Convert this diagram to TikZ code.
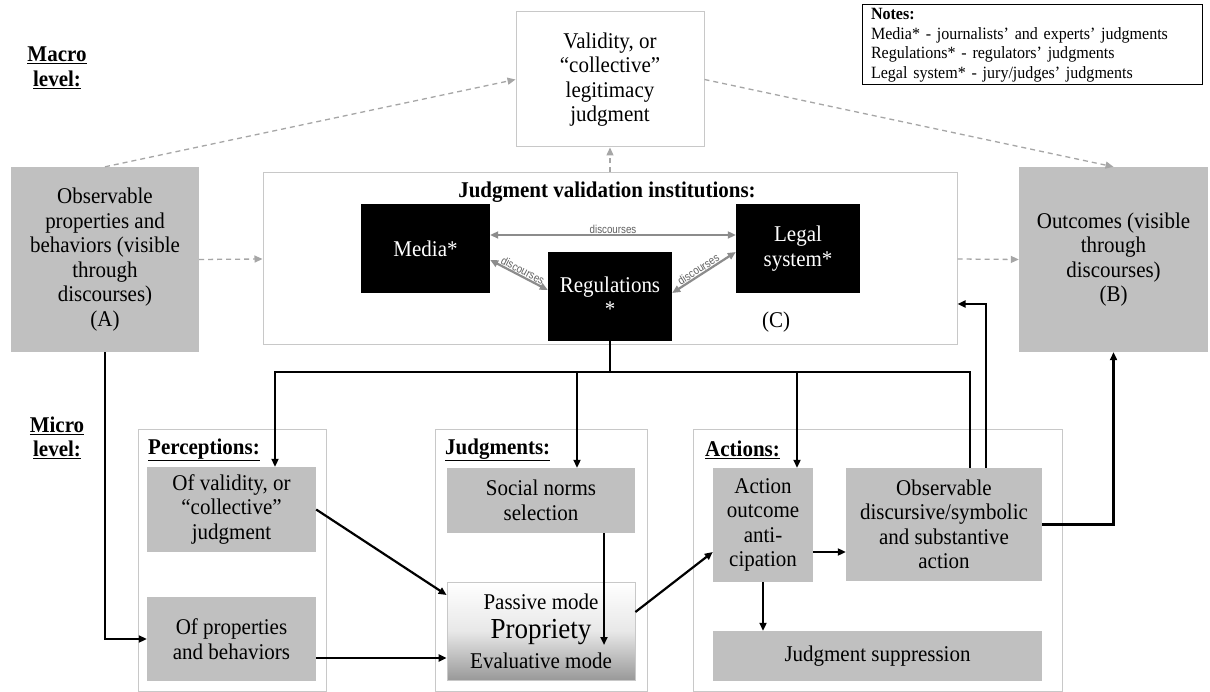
\documentclass[tikz,border=0pt]{standalone}
\usepackage{fontspec}
\setmainfont{Liberation Serif}[FakeStretch=0.933]
\newfontfamily\narrowsans{Liberation Sans}[FakeStretch=0.85]
\usetikzlibrary{arrows.meta}
\definecolor{boxgray}{HTML}{C0C0C0}
\definecolor{framegray}{HTML}{C8C8C8}
\definecolor{dashgray}{HTML}{A6A6A6}
\definecolor{discgray}{HTML}{8C8C8C}
\definecolor{disctext}{HTML}{606060}
\newcommand\mainfs{\fontsize{22.5}{24.5}\selectfont}
\newcommand\notefs{\fontsize{17.2}{19.5}\selectfont}
\newcommand\discfs{\narrowsans\fontsize{11.5}{12.5}\selectfont}
\begin{document}
\begin{tikzpicture}[x=1pt,y=-1pt,font=\mainfs,
  gbox/.style={fill=boxgray, align=center, inner sep=0pt},
  frame/.style={draw=framegray, line width=1pt, inner sep=0pt},
  bbox/.style={fill=black, text=white, align=center, inner sep=0pt},
  lbl/.style={font=\mainfs\bfseries, inner sep=0pt},
  dashconn/.style={draw=dashgray, line width=1.3pt, dash pattern=on 5pt off 4pt, -{Triangle[length=8pt,width=7pt]}},
  conn/.style={draw=black, line width=2.2pt, -{Triangle[length=8pt,width=7pt]}},
  plainconn/.style={draw=black, line width=2.2pt},
  disc/.style={draw=discgray, line width=2.2pt, {Triangle[length=8pt,width=7pt]}-{Triangle[length=8pt,width=7pt]}},
  disclbl/.style={font=\discfs, text=disctext, inner sep=0.5pt}
]
\useasboundingbox (0,0) rectangle (1210,692);
\fill[white] (0,0) rectangle (1210,692);

% level labels
\node[lbl, align=center] (macro) at (57,68) {\underline{Macro}\\\underline{level:}};
\node[lbl, align=center] (micro) at (57,438) {\underline{Micro}\\\underline{level:}};

% notes
\node[draw=black, line width=1pt, align=left, font=\notefs, text width=322, inner xsep=9pt, inner ysep=1pt, minimum height=80] (notes) at (1032,45)
  {\textbf{Notes:}\\Media* - journalists’ and experts’ judgments\\Regulations* - regulators’ judgments\\Legal system* - jury/judges’ judgments};

% macro level
\node[frame, fill=white, align=center, minimum width=188, minimum height=135] (valid) at (610,79.5)
  {Validity, or\\“collective”\\legitimacy\\judgment};
\node[gbox, minimum width=188, minimum height=185] (A) at (105,259.5)
  {Observable\\properties and\\behaviors (visible\\through\\discourses)\\(A)};
\node[gbox, minimum width=189, minimum height=185] (B) at (1113.5,259.5)
  {Outcomes (visible\\through\\discourses)\\(B)};
\node[frame, fill=white, minimum width=694, minimum height=172] (jvi) at (610,259) {};
\node[lbl] (jvititle) at (607,192) {Judgment validation institutions:};
\node[bbox, minimum width=129, minimum height=89] (media) at (425.5,248.5) {Media*};
\node[bbox, minimum width=124, minimum height=89] (reg) at (610,296.5) {Regulations\\*};
\node[bbox, minimum width=124, minimum height=89] (legal) at (798,248.5) {Legal\\system*};
\node[inner sep=0pt] (clabel) at (776,322) {(C)};

% discourses arrows
\draw[disc] ([yshift=13.5pt]media.east) -- ([yshift=13.5pt]media.east -| legal.west)
  node[midway, above, disclbl] (d1) {discourses};
\draw[disc] ([yshift=-11.5pt]media.east) -- ([yshift=6.5pt]reg.west)
  node[pos=0.52, sloped, above, disclbl] (d2) {discourses};
\draw[disc] ([yshift=3.5pt]reg.east) -- ([yshift=-3.5pt]legal.west)
  node[pos=0.46, sloped, above, disclbl] (d3) {discourses};

% dashed macro connectors
\draw[dashconn] (A.north) -- (valid.west);
\draw[dashconn] (valid.east) -- (B.north);
\draw[dashconn] (jvi.north) -- (valid.south);
\draw[dashconn] (A.east) -- (jvi.west);
\draw[dashconn] (jvi.east) -- (B.west);

% micro containers
\node[frame, minimum width=188, minimum height=262] (perc) at (232,560) {};
\node[frame, minimum width=212, minimum height=262] (judg) at (541,560) {};
\node[frame, minimum width=369, minimum height=262] (act) at (877.5,560) {};
\node[lbl, anchor=west] (perclbl) at (148,450) {\underline{Perceptions:}};
\node[lbl, anchor=west] (judglbl) at (445,450) {\underline{Judgments:}};
\node[lbl, anchor=west] (actlbl) at (705,450) {\underline{Actions:}};

% micro boxes
\node[gbox, minimum width=169, minimum height=85] (ov) at (231.5,509.5) {Of validity, or\\“collective”\\judgment};
\node[gbox, minimum width=169, minimum height=84] (op) at (231.5,639) {Of properties\\and behaviors};
\node[gbox, minimum width=188, minimum height=65] (sn) at (541,500.5) {Social norms\\selection};
\node[draw=framegray, line width=0.8pt, top color=white, bottom color=gray!80, middle color=gray!18,
      align=center, inner sep=0pt, minimum width=188, minimum height=98,
      font=\fontsize{22.5}{29.5}\selectfont] (pr) at (541,631)
  {Passive mode\\{\fontsize{29}{29.5}\selectfont Propriety}\\Evaluative mode};
\node[gbox, minimum width=100, minimum height=114] (ao) at (763,525) {Action\\outcome\\anti-\\cipation};
\node[gbox, minimum width=196, minimum height=113] (oa) at (944,524.5) {Observable\\discursive/symbolic\\and substantive\\action};
\node[gbox, minimum width=329, minimum height=50] (js) at (877.5,656) {Judgment suppression};

% bus from regulations
\coordinate (bus) at (610,372);
\draw[plainconn] (reg.south) -- (bus);
\draw[conn] (bus) -| ([xshift=43.5pt]ov.north);
\draw[conn] (bus) -| ([xshift=36pt]sn.north);
\draw[conn] (bus) -| ([xshift=34pt]ao.north);
\draw[plainconn] (bus) -| ([xshift=26pt]oa.north);

% other black connectors
\draw[conn] (A.south) |- (op.west);
\draw[conn] (ov.east) -- ([yshift=36pt]pr.west);
\draw[conn] ([yshift=-19pt]op.east) -- ([yshift=-19pt]op.east -| pr.west);
\draw[conn] ([xshift=63pt]sn.south) -- ([xshift=63pt,yshift=-14pt]pr.center);
\draw[conn] ([yshift=19pt]pr.east) -- ([yshift=-27pt]ao.west);
\draw[conn] ([yshift=-27pt]ao.east) -- ([yshift=-27pt]ao.east -| oa.west);
\draw[conn] (ao.south) -- (ao.south |- js.north);
\draw[conn] ([xshift=42pt]oa.north) |- ([yshift=-45pt]jvi.east);
\draw[conn] (oa.east) -| (B.south);
\end{tikzpicture}
\end{document}
